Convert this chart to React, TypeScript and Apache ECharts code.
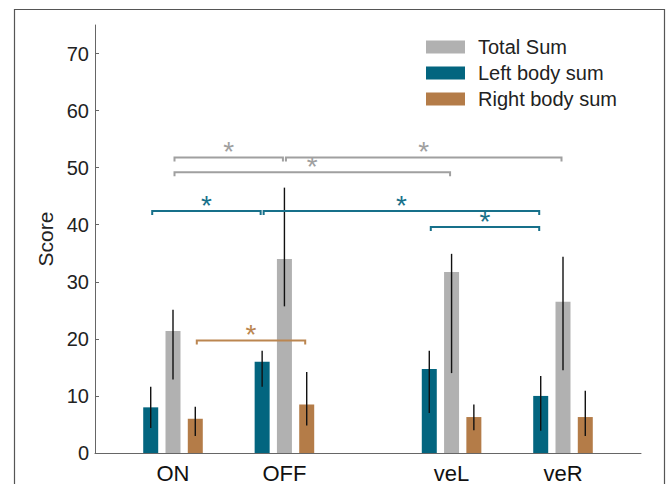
import React, { useEffect, useRef } from 'react';
import * as echarts from 'echarts';

// ---- data ----
const categories = ['ON', 'OFF', 'veL', 'veR'];
const catPos = [1, 2, 3.5, 4.5];
const yTicks = [0, 10, 20, 30, 40, 50, 60, 70];

const totalMean = [21.4, 34.0, 31.7, 26.5];
const totalLo = [12.9, 25.7, 14.0, 14.5];
const totalHi = [25.1, 46.5, 34.9, 34.4];

const leftMean = [8.0, 16.0, 14.7, 10.0];
const leftLo = [4.4, 11.6, 7.0, 3.9];
const leftHi = [11.6, 17.9, 17.9, 13.5];

const rightMean = [6.0, 8.5, 6.3, 6.3];
const rightLo = [3.0, 4.8, 4.0, 3.0];
const rightHi = [8.1, 14.2, 8.5, 10.9];

// significance brackets
const sigFrom = ['ON', 'OFF', 'ON', 'ON', 'OFF', 'veL', 'ON'];
const sigTo = ['OFF', 'veR', 'veL', 'OFF', 'veR', 'veR', 'OFF'];
const sigGroup = ['total', 'total', 'total', 'left', 'left', 'left', 'right'];
const sigLevel = [51.8, 51.8, 49.2, 42.4, 42.4, 39.6, 19.7];

// ---- style ----
const FONT = 'Liberation Sans, Arial, sans-serif';
const BAR_W = 15;
const offsets: Record<string, number> = { left: -0.2, total: 0, right: 0.2 };
const barColors: Record<string, string> = { total: '#b1b1b1', left: '#03657f', right: '#b47c48' };
const sigColors: Record<string, string> = { total: '#a0a0a0', left: '#17708a', right: '#bb8650' };

function barSeries(name: string, key: string, means: number[], lo: number[], hi: number[]) {
  const color = barColors[key];
  const off = offsets[key];
  return {
    type: 'custom',
    name,
    itemStyle: { color },
    data: catPos.map((x, i) => [x, means[i], lo[i], hi[i]]),
    encode: { x: 0, y: [1, 2, 3] },
    renderItem: (params: any, api: any) => {
      const x = api.value(0) + off;
      const top = api.coord([x, api.value(1)]);
      const base = api.coord([x, 0]);
      const l = api.coord([x, api.value(2)]);
      const h = api.coord([x, api.value(3)]);
      return {
        type: 'group',
        children: [
          {
            type: 'rect',
            shape: { x: top[0] - BAR_W / 2, y: top[1], width: BAR_W, height: base[1] - top[1] },
            style: { fill: color },
          },
          {
            type: 'line',
            shape: { x1: l[0], y1: l[1], x2: h[0], y2: h[1] },
            style: { stroke: '#111', lineWidth: 1.4 },
          },
        ],
      };
    },
  };
}

export default function App() {
  const ref = useRef<HTMLDivElement>(null);
  useEffect(() => {
    const chart = echarts.init(ref.current!, null, { renderer: 'svg' });
    const bracketData = sigFrom.map((f, i) => {
      const g = sigGroup[i];
      return [
        catPos[categories.indexOf(f)] + offsets[g],
        catPos[categories.indexOf(sigTo[i])] + offsets[g],
        sigLevel[i],
        i,
      ];
    });
    const option: any = {
      animation: false,
      textStyle: { fontFamily: FONT },
      grid: { left: 95, right: 28, top: 25, bottom: 29 },
      legend: {
        data: ['Total Sum', 'Left body sum', 'Right body sum'],
        orient: 'vertical',
        left: 426,
        top: 37,
        padding: 0,
        icon: 'rect',
        itemWidth: 39,
        itemHeight: 13,
        itemGap: 6,
        textStyle: { fontSize: 20, color: '#222', fontFamily: FONT, padding: [0, 0, 0, 8], lineHeight: 20 },
      },
      xAxis: {
        type: 'value',
        min: 0.3,
        max: 5.2,
        splitLine: { show: false },
        axisLine: { show: true, lineStyle: { color: '#666', width: 1 } },
        axisTick: { show: false },
        axisLabel: {
          customValues: catPos,
          formatter: (v: number) => categories[catPos.indexOf(v)] ?? '',
          fontSize: 22,
          color: '#111',
          margin: 9,
          fontFamily: FONT,
        },
      },
      yAxis: {
        type: 'value',
        min: 0,
        max: 75,
        name: 'Score',
        nameLocation: 'middle',
        nameGap: 36,
        nameTextStyle: { fontSize: 21, color: '#222', fontFamily: FONT },
        splitLine: { show: false },
        axisLine: { show: true, lineStyle: { color: '#666', width: 1 } },
        axisTick: { show: true, inside: true, length: 4, customValues: yTicks, lineStyle: { color: '#666' } },
        axisLabel: { customValues: yTicks, fontSize: 20, color: '#222', margin: 6, fontFamily: FONT },
      },
      graphic: [
        {
          type: 'rect',
          silent: true,
          shape: { x: 14.5, y: 9.5, width: 650, height: 500 },
          style: { fill: 'none', stroke: '#555', lineWidth: 1.2 },
        },
      ],
      series: [
        barSeries('Left body sum', 'left', leftMean, leftLo, leftHi),
        barSeries('Total Sum', 'total', totalMean, totalLo, totalHi),
        barSeries('Right body sum', 'right', rightMean, rightLo, rightHi),
        {
          type: 'custom',
          name: 'sig',
          data: bracketData,
          encode: { x: [0, 1], y: 2 },
          renderItem: (params: any, api: any) => {
            const idx = api.value(3);
            const color = sigColors[sigGroup[idx]];
            const a = api.coord([api.value(0), api.value(2)]);
            const b = api.coord([api.value(1), api.value(2)]);
            const x1 = a[0] + 1.5;
            const x2 = b[0] - 1.5;
            const y = a[1];
            return {
              type: 'group',
              children: [
                {
                  type: 'polyline',
                  shape: { points: [[x1, y + 4], [x1, y], [x2, y], [x2, y + 4]] },
                  style: { stroke: color, lineWidth: 2, fill: 'none' },
                },
                {
                  type: 'text',
                  x: (x1 + x2) / 2,
                  y: y - 6,
                  style: {
                    text: '*',
                    fill: color,
                    fontSize: 28,
                    fontFamily: FONT,
                    align: 'center',
                    verticalAlign: 'middle',
                  },
                },
              ],
            };
          },
        },
      ],
    };
    chart.setOption(option);
    return () => chart.dispose();
  }, []);
  return (
    <div
      ref={ref}
      style={{ position: 'absolute', left: 0, top: 0, width: 669, height: 484 }}
    />
  );
}
